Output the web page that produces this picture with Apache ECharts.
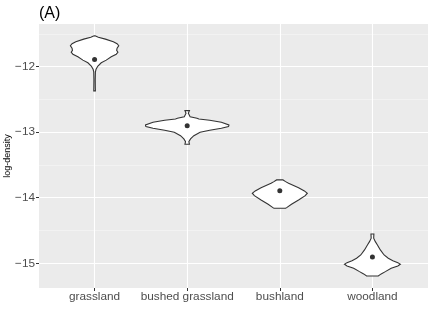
<!DOCTYPE html>
<html><head><meta charset="utf-8">
<script src="https://cdn.jsdelivr.net/npm/echarts@6/dist/echarts.min.js"></script>
<style>html,body{margin:0;padding:0;background:#fff}#c{width:432px;height:309px}</style>
</head><body><div id="c"></div>
<script>
// ---- data ----
const categories = ['grassland', 'bushed grassland', 'bushland', 'woodland'];
const means = [-11.89, -12.90, -13.895, -14.905];
const yTicks = [-15, -14, -13, -12];
const yMinorTicks = [-14.5, -13.5, -12.5, -11.5];
const xTicks = [0, 1, 2, 3];

// violin profiles: log-density values and relative density (max = 1)
const grasslandY = [-11.53, -11.55, -11.58, -11.62, -11.65, -11.68, -11.72, -11.75, -11.78, -11.81, -11.85, -11.90, -11.94, -11.99, -12.04, -12.08, -12.20, -12.33, -12.37];
const grasslandDensity = [0.01, 0.09, 0.26, 0.45, 0.54, 0.58, 0.54, 0.53, 0.56, 0.52, 0.40, 0.28, 0.16, 0.08, 0.035, 0.02, 0.016, 0.018, 0.02];

const bushedY = [-12.671, -12.711, -12.763, -12.787, -12.798, -12.818, -12.848, -12.889, -12.900, -12.915, -12.940, -12.970, -13.001, -13.053, -13.103, -13.144, -13.184];
const bushedDensity = [0.054, 0.028, 0.07, 0.235, 0.28, 0.54, 0.82, 1.0, 1.0, 0.99, 0.82, 0.54, 0.31, 0.16, 0.08, 0.04, 0.054];

const bushlandY = [-13.728, -13.754, -13.779, -13.846, -13.896, -13.931, -13.968, -14.034, -14.099, -14.151, -14.161];
const bushlandDensity = [0.078, 0.14, 0.21, 0.45, 0.59, 0.66, 0.61, 0.45, 0.28, 0.165, 0.14];

const woodlandY = [-14.552, -14.618, -14.670, -14.720, -14.796, -14.873, -14.923, -14.960, -14.990, -15.014, -15.040, -15.075, -15.127, -15.162, -15.193];
const woodlandDensity = [0.035, 0.03, 0.07, 0.12, 0.19, 0.28, 0.38, 0.49, 0.61, 0.67, 0.61, 0.45, 0.31, 0.21, 0.14];

const yRange = [-15.377, -11.349];
const xRange = [-0.6, 3.6];

// ---- chart ----
const profiles = [
  { y: grasslandY, d: grasslandDensity },
  { y: bushedY, d: bushedDensity },
  { y: bushlandY, d: bushlandDensity },
  { y: woodlandY, d: woodlandDensity }
];
const HALF = 0.45;
const FONT = '"Liberation Sans", Arial, Helvetica, sans-serif';

function renderViolin(params, api) {
  const ci = api.value(0);
  const p = profiles[ci];
  const right = [], left = [];
  for (let i = 0; i < p.y.length; i++) {
    right.push(api.coord([ci + p.d[i] * HALF, p.y[i]]));
    left.push(api.coord([ci - p.d[i] * HALF, p.y[i]]));
  }
  return {
    type: 'polygon',
    shape: { points: right.concat(left.reverse()), smooth: 0 },
    style: { fill: '#ffffff', stroke: '#333333', lineWidth: 1.1 }
  };
}

const minus = v => String(v).replace('-', '\u2212');

const chart = echarts.init(document.getElementById('c'), null, { renderer: 'canvas' });
chart.setOption({
  animation: false,
  backgroundColor: '#ffffff',
  textStyle: { fontFamily: FONT },
  title: {
    text: '(A)', left: 39, top: 6, padding: 0,
    textStyle: { fontSize: 16, fontWeight: 'normal', color: '#000', fontFamily: FONT }
  },
  grid: {
    left: 39, right: 4, top: 24, bottom: 21,
    containLabel: false, outerBoundsMode: 'none',
    show: true, backgroundColor: '#EBEBEB', borderWidth: 0
  },
  xAxis: {
    type: 'value', min: xRange[0], max: xRange[1],
    axisLine: { show: false, onZero: false },
    axisTick: { show: true, length: 3, lineStyle: { color: '#333', width: 1 }, customValues: xTicks },
    axisLabel: {
      customValues: xTicks, margin: 3, fontSize: 11.8, color: '#4D4D4D', fontFamily: FONT,
      formatter: v => categories[Math.round(v)]
    },
    splitLine: { show: true, lineStyle: { color: '#ffffff', width: 1.1 } }
  },
  yAxis: [
    {
      type: 'value', min: yRange[0], max: yRange[1], position: 'left',
      name: 'log-density', nameLocation: 'middle', nameGap: 27, nameRotate: 90,
      nameMoveOverlap: false,
      nameTextStyle: { fontSize: 9, color: '#000', fontFamily: FONT },
      axisLine: { show: false, onZero: false },
      axisTick: { show: true, length: 3, lineStyle: { color: '#333', width: 1 }, customValues: yTicks },
      axisLabel: { customValues: yTicks, margin: 4, fontSize: 11.8, color: '#4D4D4D', fontFamily: FONT, formatter: minus },
      splitLine: { show: true, lineStyle: { color: '#ffffff', width: 1.1 } },
      z: 1
    },
    {
      type: 'value', min: yRange[0], max: yRange[1], position: 'left',
      axisLine: { show: false, onZero: false },
      axisTick: { show: false, customValues: yMinorTicks },
      axisLabel: { show: false, customValues: yMinorTicks },
      splitLine: { show: true, lineStyle: { color: '#F7F7F7', width: 0.6 } },
      z: 0
    }
  ],
  series: [
    {
      type: 'custom', renderItem: renderViolin, xAxisIndex: 0, yAxisIndex: 0,
      data: categories.map((c, i) => [i, means[i]]),
      encode: { x: 0, y: 1 }, z: 2
    },
    {
      type: 'scatter', xAxisIndex: 0, yAxisIndex: 0,
      data: categories.map((c, i) => [i, means[i]]),
      symbol: 'circle', symbolSize: 5,
      itemStyle: { color: '#000' }, z: 3
    }
  ]
});
</script>
</body></html>
